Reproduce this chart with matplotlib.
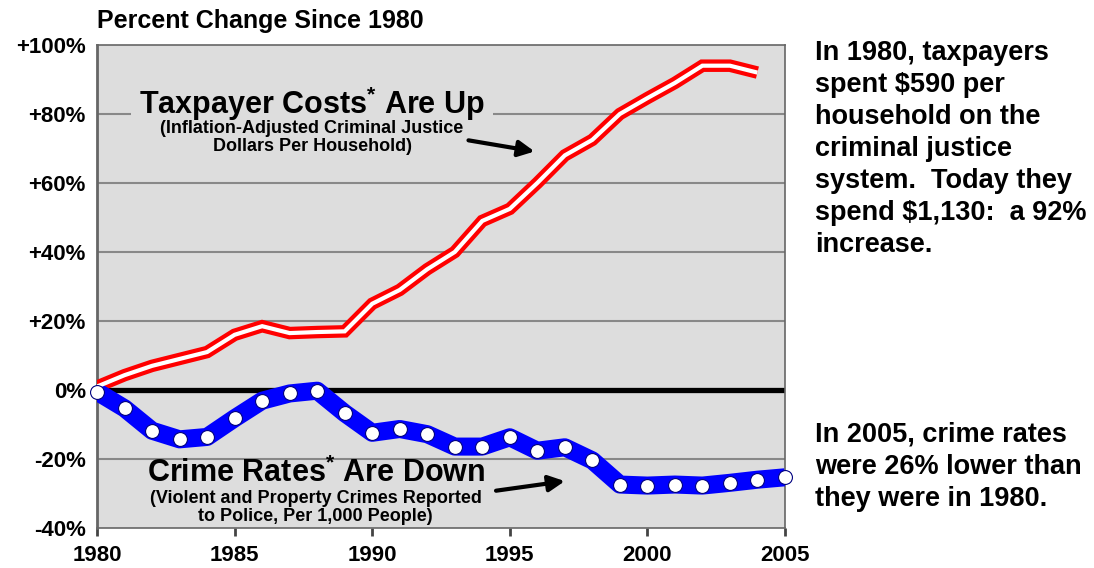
import matplotlib
matplotlib.use("Agg")
import matplotlib.pyplot as plt
import numpy as np

plt.rcParams['font.family'] = ['Liberation Sans', 'DejaVu Sans']
plt.rcParams['font.weight'] = 'bold'
plt.rcParams['mathtext.fontset'] = 'custom'
plt.rcParams['mathtext.rm'] = 'Liberation Sans:bold'
plt.rcParams['mathtext.default'] = 'regular'

# taxpayer costs, percent change since 1980 (1980-2004)
cost_years = list(range(1980, 2005))
cost_pct = [1, 4.3, 7, 9, 11, 16, 18.5, 16.5, 16.8, 17, 25, 29, 35, 40, 49,
            52.5, 60, 68, 72.5, 80, 84.6, 89, 94, 94, 92]

# crime rates, percent change since 1980 (1980-2005)
crime_years = list(range(1980, 2006))
crime_pct = [-0.5, -5.3, -11.8, -14.3, -13.6, -8.2, -3.1, -1, -0.2, -6.7,
             -12.4, -11.3, -12.8, -16.4, -16.4, -13.7, -17.6, -16.6, -20.4,
             -27.4, -27.7, -27.4, -27.7, -26.9, -26, -25.3]

y_ticks = [-40, -20, 0, 20, 40, 60, 80, 100]
y_labels = ['-40%', '-20%', '0%', '+20%', '+40%', '+60%', '+80%', '+100%']
x_ticks = [1980, 1985, 1990, 1995, 2000, 2005]

fig = plt.figure(figsize=(10.94, 5.68), dpi=100)
ax = fig.add_axes([0.0887, 0.0704, 0.6288, 0.8504])
ax.set_facecolor('#dddddd')

# gridlines
for v in [-20, 20, 40, 60, 80]:
    ax.axhline(v, color='#888888', lw=1.5, zorder=1)
ax.axhline(0, color='black', lw=3.8, zorder=2)

# taxpayer line: red with white core
ax.plot(cost_years, cost_pct, color='#ff0000', lw=9, solid_joinstyle='miter',
        solid_capstyle='butt', zorder=4)
ax.plot(cost_years, cost_pct, color='white', lw=3, solid_joinstyle='miter',
        solid_capstyle='butt', zorder=5)

# crime line: thick blue with white dots
ax.plot(crime_years, crime_pct, color='#0000ff', lw=13, solid_joinstyle='round',
        solid_capstyle='butt', zorder=4)
ax.plot(crime_years, crime_pct, ls='none', marker='o', ms=10,
        markerfacecolor='white', markeredgecolor='#000080', markeredgewidth=0.8,
        zorder=6, clip_on=False)

ax.set_xlim(1980, 2005)
ax.set_ylim(-40, 100)
ax.set_yticks(y_ticks)
ax.set_yticklabels(y_labels, fontsize=16, fontweight='bold')
ax.set_xticks(x_ticks)
ax.set_xticklabels([str(x) for x in x_ticks], fontsize=16, fontweight='bold')
ax.tick_params(axis='y', length=0, pad=8)
ax.tick_params(axis='x', direction='out', length=6, width=2, color='#444444', pad=6)
for s in ['top', 'right', 'bottom']:
    ax.spines[s].set_color('#666666')
    ax.spines[s].set_linewidth(1.2)
ax.spines['left'].set_color('#666666')
ax.spines['left'].set_linewidth(2)

# series labels
ax.text(0.3125, 0.878, 'Taxpayer Costs$^{*}$ Are Up', transform=ax.transAxes,
        ha='center', va='center', fontsize=22, fontweight='bold', zorder=3,
        bbox=dict(facecolor='#dddddd', edgecolor='none', pad=6))
ax.text(0.3125, 0.808, '(Inflation-Adjusted Criminal Justice\nDollars Per Household)',
        transform=ax.transAxes, ha='center', va='center', fontsize=13,
        fontweight='bold', linespacing=1.1, zorder=3)
ax.annotate('', xy=(1996.0, 69), xytext=(1993.4, 72.5),
            arrowprops=dict(arrowstyle='-|>', color='black', lw=3,
                            mutation_scale=24), zorder=7)

ax.text(0.318, 0.114, 'Crime Rates$^{*}$ Are Down', transform=ax.transAxes,
        ha='center', va='center', fontsize=22, fontweight='bold', zorder=3)
ax.text(0.318, 0.043, '(Violent and Property Crimes Reported\nto Police, Per 1,000 People)',
        transform=ax.transAxes, ha='center', va='center', fontsize=13,
        fontweight='bold', linespacing=1.1, zorder=3)
ax.annotate('', xy=(1997.1, -26.3), xytext=(1994.4, -29.3),
            arrowprops=dict(arrowstyle='-|>', color='black', lw=3,
                            mutation_scale=24), zorder=7)

fig.text(0.0887, 0.963, 'Percent Change Since 1980', ha='left', va='center',
         fontsize=18, fontweight='bold')

fig.text(0.745, 0.93, 'In 1980, taxpayers\nspent $590 per\nhousehold on the\n'
         'criminal justice\nsystem.  Today they\nspend $1,130:  a 92%\nincrease.',
         ha='left', va='top', fontsize=19.5, fontweight='bold', linespacing=1.3,
         parse_math=False)
fig.text(0.745, 0.178, 'In 2005, crime rates\nwere 26% lower than\nthey were in 1980.',
         ha='left', va='center', fontsize=19.5, fontweight='bold', linespacing=1.3)

fig.savefig('out.png', dpi=100)
